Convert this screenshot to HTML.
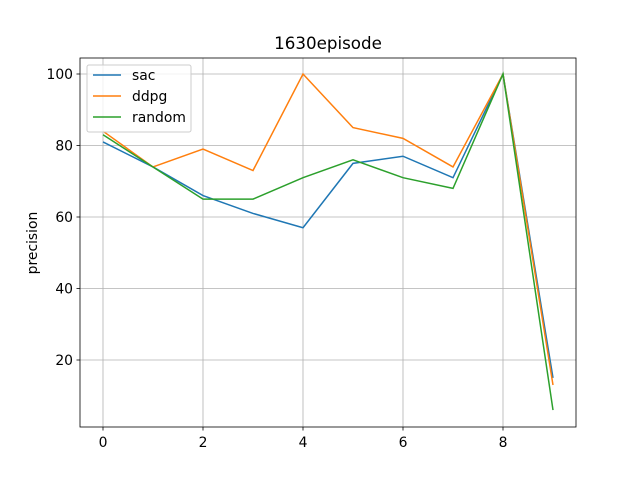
<!DOCTYPE html>
<html><head><meta charset="utf-8"><style>
body{margin:0;background:#fff;font-family:"Liberation Sans","DejaVu Sans",sans-serif;}
svg text{font-family:"DejaVu Sans","Liberation Sans",sans-serif;}
</style></head><body>
<svg id="chart" width="640" height="480">
<rect width="640" height="480" fill="#fff"/>
<g id="grid"></g><g id="axes"></g><g id="lines"></g><g id="legend"></g>
<text x="328" y="49" font-size="16.7" text-anchor="middle">1630episode</text>
<text transform="translate(37,243) rotate(-90)" font-size="13.9" text-anchor="middle">precision</text>
</svg>
<script>
const categories=[0,1,2,3,4,5,6,7,8,9];
const sac=[81,74,66,61,57,75,77,71,100,15];
const ddpg=[84,74,79,73,100,85,82,74,100,13];
const random=[83,74,65,65,71,76,71,68,100,6];
const xTicks=[0,2,4,6,8];
const yTicks=[20,40,60,80,100];
const seriesNames=["sac","ddpg","random"];
const colors=["#1f77b4","#ff7f0e","#2ca02c"];
const L=80,R=576,T=58,B=427;
const x=v=>103+v*50;
const y=v=>431.5-v*3.575;
const ns="http://www.w3.org/2000/svg";
function mk(tag,attrs,parent){const e=document.createElementNS(ns,tag);for(const k in attrs)e.setAttribute(k,attrs[k]);parent.appendChild(e);return e;}
const grid=document.getElementById('grid'),axes=document.getElementById('axes'),lines=document.getElementById('lines'),legend=document.getElementById('legend');
xTicks.forEach(t=>{
 const g=mk('line',{x1:x(t),x2:x(t),y1:T,y2:B,stroke:'#b0b0b0','stroke-width':0.8},grid);
 
 
 mk('line',{x1:x(t),x2:x(t),y1:B,y2:B+3.5,stroke:'#000','stroke-width':0.8},axes);
 const tx=mk('text',{x:x(t),y:B+20,'font-size':13.9,'text-anchor':'middle'},axes);tx.textContent=t;
 
 
});
yTicks.forEach(t=>{
 const g=mk('line',{x1:L,x2:R,y1:y(t),y2:y(t),stroke:'#b0b0b0','stroke-width':0.8},grid);
 
 
 mk('line',{x1:L-3.5,x2:L,y1:y(t),y2:y(t),stroke:'#000','stroke-width':0.8},axes);
 const tx=mk('text',{x:L-7,y:y(t)+5,'font-size':13.9,'text-anchor':'end'},axes);tx.textContent=t;
 
 
});
const frame=mk('rect',{x:L,y:T,width:R-L,height:B-T,fill:'none',stroke:'#000','stroke-width':0.8},axes);


[sac,ddpg,random].forEach((s,i)=>{
 const p=mk('polyline',{points:s.map((v,j)=>x(categories[j])+','+y(v)).join(' '),fill:'none',stroke:colors[i],'stroke-width':1.5},lines);
 
 
});
const box=mk('rect',{x:87,y:65,width:104,height:67,fill:'#fff','fill-opacity':0.8,stroke:'#ccc',rx:2},legend);


seriesNames.forEach((n,i)=>{
 const yy=75+i*21;
 mk('line',{x1:93,x2:121,y1:yy,y2:yy,stroke:colors[i],'stroke-width':1.5},legend);
 const t=mk('text',{x:132,y:yy+5,'font-size':13.9},legend);t.textContent=n;
 
 
});
</script>
</body></html>
